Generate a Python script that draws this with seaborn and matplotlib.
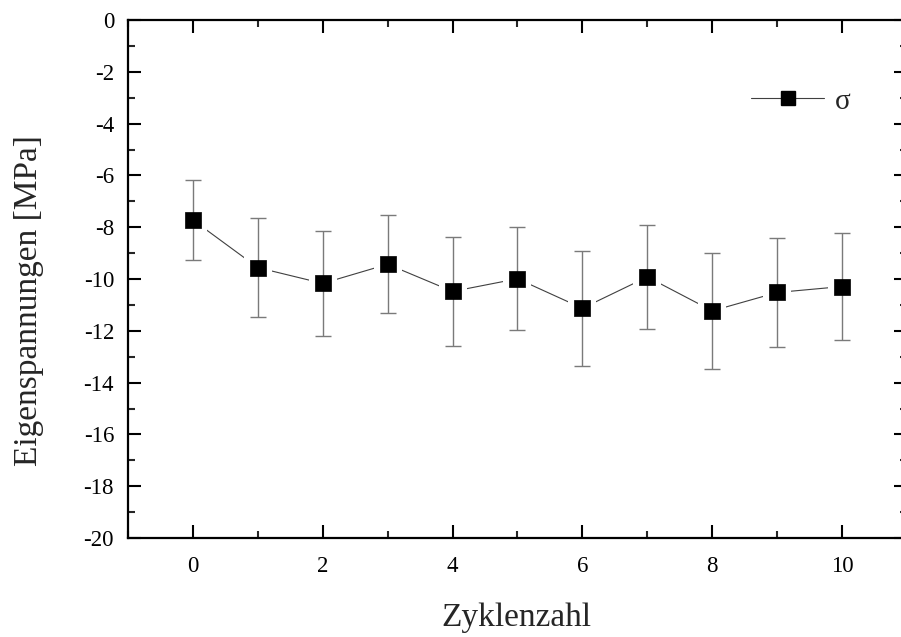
import matplotlib
matplotlib.use("Agg")
import matplotlib.pyplot as plt
import seaborn as sns
import numpy as np
import pandas as pd
from matplotlib.ticker import MultipleLocator
from matplotlib.lines import Line2D

cycles = [0, 1, 2, 3, 4, 5, 6, 7, 8, 9, 10]
sigma = [-7.72, -9.56, -10.17, -9.43, -10.48, -9.99, -11.13, -9.92, -11.23, -10.52, -10.29]
sigma_err = [1.55, 1.92, 2.03, 1.89, 2.1, 1.99, 2.22, 2.0, 2.25, 2.1, 2.07]
x_ticks = [0, 2, 4, 6, 8, 10]
y_ticks = list(range(-20, 1, 2))

df = pd.DataFrame({"Zyklenzahl": cycles, "sigma": sigma, "err": sigma_err})

sns.set_style("ticks")
plt.rcParams["font.family"] = ["Liberation Serif", "DejaVu Serif"]

fig = plt.figure(figsize=(9.01, 6.37), dpi=100)
ax = fig.add_axes([0.142, 0.1554, 0.8647, 0.8132])

# connecting line
sns.lineplot(data=df, x="Zyklenzahl", y="sigma", ax=ax, color="#404040",
             linewidth=0.8, zorder=1, legend=False)
# white halo to create gaps between line and markers
sns.scatterplot(data=df, x="Zyklenzahl", y="sigma", ax=ax, marker="s", s=390,
                color="white", edgecolor="white", linewidth=0, zorder=2, legend=False)
# error bars
ax.errorbar(df["Zyklenzahl"], df["sigma"], yerr=df["err"], fmt="none",
            ecolor="#7a7a7a", elinewidth=1.0, capsize=6, capthick=1.0, zorder=3)
# markers
sns.scatterplot(data=df, x="Zyklenzahl", y="sigma", ax=ax, marker="s", s=135,
                color="black", edgecolor="black", linewidth=0.5, zorder=4, legend=False)

ax.set_xlim(-1, 11)
ax.set_ylim(-20, 0)
ax.xaxis.set_minor_locator(MultipleLocator(1))
ax.yaxis.set_minor_locator(MultipleLocator(1))

for s in ax.spines.values():
    s.set_linewidth(1.6)
    s.set_color("black")
    s.set_visible(True)

ax.tick_params(which="major", direction="in", length=9.5, width=1.5,
               top=True, right=True, labelsize=16.5, colors="black")
ax.tick_params(which="minor", direction="in", length=5, width=1.5,
               top=True, right=True)
ax.tick_params(axis="x", which="major", pad=13)
ax.tick_params(axis="y", which="major", pad=10)
ax.set_xticks(x_ticks)
ax.set_xticklabels([str(v) for v in x_ticks])
ax.set_yticks(y_ticks)
ax.set_yticklabels([str(v) for v in y_ticks])

ax.set_xlabel("Zyklenzahl", fontsize=24)
ax.set_ylabel("Eigenspannungen [MPa]", fontsize=24)
ax.xaxis.set_label_coords(0.499, -0.125)
ax.yaxis.set_label_coords(-0.108, 0.4575)

# legend
h = Line2D([0], [0], color="#404040", linewidth=0.8, marker="s",
           markersize=10.5, markerfacecolor="black", markeredgecolor="black")
ax.legend([h], ["σ"], loc="upper right", frameon=False, fontsize=21,
          handlelength=2.5, bbox_to_anchor=(0.942, 0.891), borderaxespad=0,
          handletextpad=0.35)

fig.savefig("out.png", dpi=100)
